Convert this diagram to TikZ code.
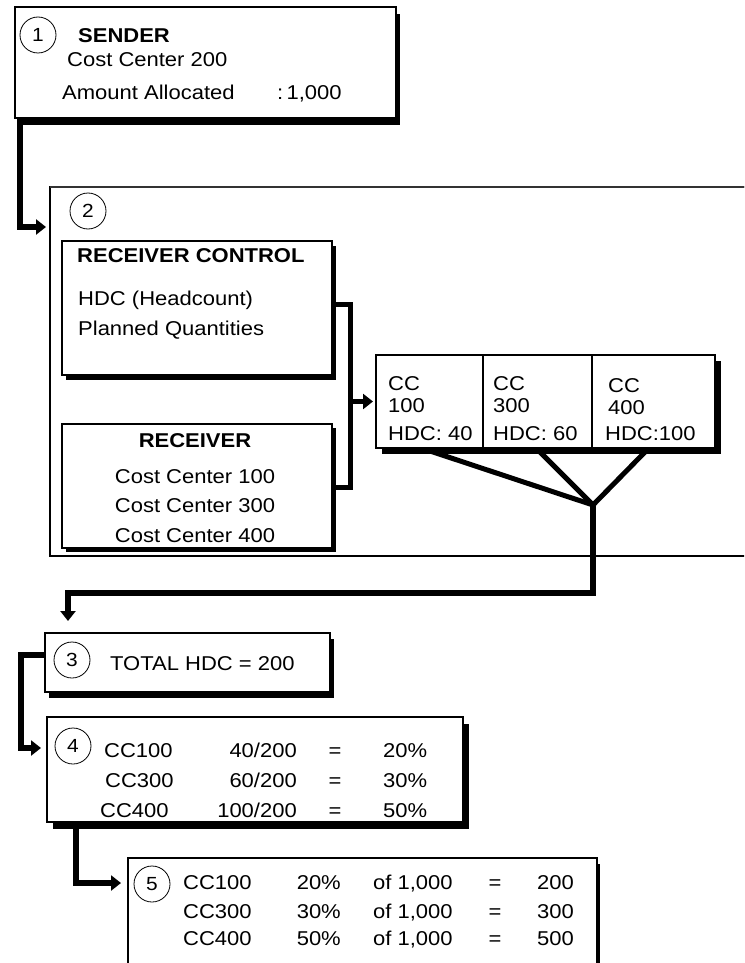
\documentclass[tikz,border=0pt]{standalone}
\usepackage{fontspec}
\setmainfont{Liberation Sans}[FakeStretch=1.1]
\usetikzlibrary{arrows.meta,shadows,calc}
\begin{document}
\begin{tikzpicture}[x=1pt,y=-1pt,
  every node/.style={font=\fontsize{20}{24}\selectfont},
  box/.style={draw, line width=1.1pt, fill=white, inner sep=0pt, outer sep=0pt, anchor=north west},
  shd/.style 2 args={drop shadow={shadow xshift=#1pt, shadow yshift=-#2pt, opacity=1, fill=black}},
  num/.style={draw, circle, line width=0.8pt, minimum size=36pt, inner sep=0pt, font=\fontsize{19}{22}\selectfont},
  txt/.style={anchor=base west, inner sep=0pt},
  rtxt/.style={anchor=base east, inner sep=0pt},
  ctxt/.style={anchor=base, inner sep=0pt},
  conn/.style={line width=6pt},
  arr/.style={-{Triangle[length=10pt,width=15pt]}},
  fan/.style={line width=5pt, line cap=round},
]
\useasboundingbox (0,0) rectangle (744,963);
\fill[white] (0,0) rectangle (744,963);
\clip (0,0) rectangle (744,963);

% ---- step 1: sender
\node[box, shd={4}{7}, minimum width=381pt, minimum height=111pt] (b1) at (15,7) {};
\node[num] (n1) at (38,35) {1};
\node[txt, font=\fontsize{20}{24}\selectfont\bfseries] at (78,43) {SENDER};
\node[txt] at (67,67) {Cost Center 200};
\node[txt] at (62,100) {Amount Allocated};
\node[txt] at (277,100) {:\,1,000};

% ---- step 2: receiver control and receivers
\node[box, minimum width=800pt, minimum height=369pt] (cont) at (50,187) {};
\draw[line width=2.2pt, black!80] (cont.north west) -- (cont.north east);
\node[num] (n2) at (88,211) {2};

\node[box, shd={4}{5}, minimum width=270pt, minimum height=134pt] (rc) at (62,241) {};
\node[txt, font=\fontsize{20}{24}\selectfont\bfseries] at (77,262) {RECEIVER CONTROL};
\node[txt] at (78,305) {HDC (Headcount)};
\node[txt] at (78,335) {Planned Quantities};

\node[box, shd={4}{4}, minimum width=270pt, minimum height=124pt] (rcv) at (62,424) {};
\node[ctxt, font=\fontsize{20}{24}\selectfont\bfseries] at (195,447) {RECEIVER};
\node[ctxt] at (195,483) {Cost Center 100};
\node[ctxt] at (195,512) {Cost Center 300};
\node[ctxt] at (195,542) {Cost Center 400};

% headcount per cost center
\node[box, shd={6}{6}, minimum width=339pt, minimum height=93pt] (cc) at (376,355) {};
\draw[line width=1.1pt] ($(cc.north west)+(107,0)$) -- ($(cc.south west)+(107,0)$);
\draw[line width=1.1pt] ($(cc.north west)+(216,0)$) -- ($(cc.south west)+(216,0)$);
\node[txt] at (388,390) {CC};
\node[txt] at (388,412) {100};
\node[txt] at (388,440) {HDC: 40};
\node[txt] at (493,390) {CC};
\node[txt] at (493,412) {300};
\node[txt] at (493,440) {HDC: 60};
\node[txt] at (608,392) {CC};
\node[txt] at (608,414) {400};
\node[txt] at (605,440) {HDC:100};

% bracket joining control and receivers
\coordinate (brk) at (350,401.5);
\draw[line width=5pt] ($(rc.north east)+(0,63)$) -| (brk) |- ($(rcv.north east)+(0,63)$);
\draw[line width=5pt, arr] (brk) -- ($(cc.west)+(-3,0)$);

% fan-in lines
\coordinate (f1) at (430,451);
\coordinate (f2) at (540,452);
\coordinate (f3) at (645,452);
\coordinate (j) at (593,505);
\draw[fan] (f1) -- (j);
\draw[fan] (f2) -- (j);
\draw[fan] (f3) -- (j);

% ---- step 3: total
\node[box, shd={4}{6}, minimum width=285pt, minimum height=59pt] (b3) at (45,633) {};
\node[num] (n3) at (72,660) {3};
\node[txt] at (110,670) {TOTAL HDC = 200};

% ---- step 4: shares
\node[box, shd={6}{7}, minimum width=416pt, minimum height=105pt] (b4) at (47,717) {};
\node[num] (n4) at (73,746) {4};
\node[txt] at (104,757) {CC100};
\node[txt] at (105,787) {CC300};
\node[txt] at (100,817) {CC400};
\node[rtxt] at (297,757) {40/200};
\node[rtxt] at (297,787) {60/200};
\node[rtxt] at (297,817) {100/200};
\node[ctxt] at (335,757) {=};
\node[ctxt] at (335,787) {=};
\node[ctxt] at (335,817) {=};
\node[txt] at (383,757) {20\%};
\node[txt] at (383,787) {30\%};
\node[txt] at (383,817) {50\%};

% ---- step 5: amounts
\node[box, shd={3}{6}, minimum width=469pt, minimum height=150pt] (b5) at (128,858) {};
\node[num] (n5) at (152,884) {5};
\node[txt] at (183,889) {CC100};
\node[txt] at (183,918) {CC300};
\node[txt] at (183,945) {CC400};
\node[rtxt] at (341,889) {20\%};
\node[rtxt] at (341,918) {30\%};
\node[rtxt] at (341,945) {50\%};
\node[txt] at (373,889) {of 1,000};
\node[txt] at (373,918) {of 1,000};
\node[txt] at (373,945) {of 1,000};
\node[ctxt] at (495,889) {=};
\node[ctxt] at (495,918) {=};
\node[ctxt] at (495,945) {=};
\node[txt] at (537,889) {200};
\node[txt] at (537,918) {300};
\node[txt] at (537,945) {500};

% ---- connectors between steps
\draw[conn, arr] ($(b1.south west)+(4.5,0)$) |- ($(cont.north west)+(-4,40)$);
\coordinate (bend) at (593,593);
\coordinate (t3) at (68,621);
\draw[conn, arr] (j) -- (bend) -| (t3);
\draw[conn, arr] ($(b3.north west)+(0,22)$) -- ++(-24,0) |- ($(b4.north west)+(-6,31)$);
\draw[conn, arr] ($(b4.south west)+(29,7)$) |- ($(b5.north west)+(-7,25)$);
\end{tikzpicture}
\end{document}
